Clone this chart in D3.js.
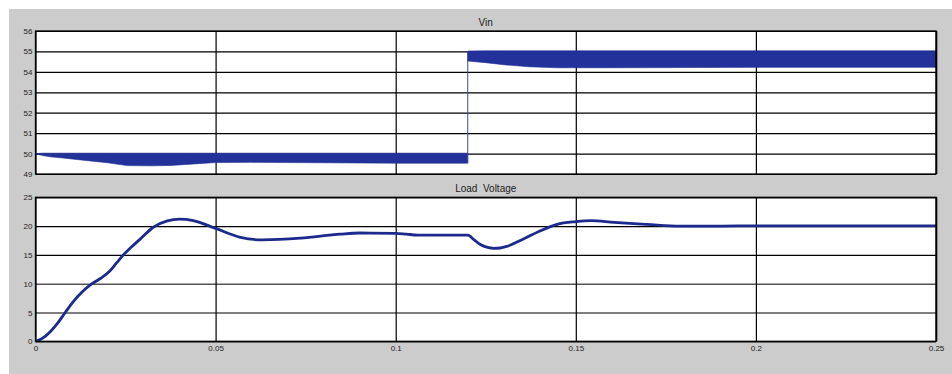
<!DOCTYPE html>
<html>
<head>
<meta charset="utf-8">
<script src="https://cdn.jsdelivr.net/npm/d3@7"></script>
<style>
  html, body { margin: 0; padding: 0; background: #ffffff; }
  svg { display: block; }
  text { font-family: "Liberation Sans", Arial, sans-serif; }
</style>
</head>
<body>
<svg id="chart" width="952" height="374"></svg>
<script>
// Time axis (s)
const xTickValues = [0, 0.05, 0.1, 0.15, 0.2, 0.25];
const xTickLabels = ["0", "0.05", "0.1", "0.15", "0.2", "0.25"];

// Vin panel
const vinTicks = [49, 50, 51, 52, 53, 54, 55, 56];
// switching-ripple envelope of the input voltage, before the step
const vinTimeA  = [0, 0.002, 0.0041, 0.0077, 0.012, 0.02, 0.0255, 0.032, 0.0375, 0.043, 0.05, 0.06, 0.08, 0.1, 0.12];
const vinUpperA = [50.0, 50.02, 50.02, 50.02, 50.02, 50.02, 50.02, 50.02, 50.02, 50.02, 50.02, 50.02, 50.02, 50.02, 50.02];
const vinLowerA = [50.0, 49.9, 49.84, 49.78, 49.7, 49.55, 49.41, 49.4, 49.42, 49.48, 49.56, 49.57, 49.55, 49.53, 49.53];
// after the step
const vinTimeB  = [0.12, 0.125, 0.13, 0.137, 0.145, 0.16, 0.2, 0.25];
const vinUpperB = [55.02, 55.03, 55.03, 55.03, 55.03, 55.03, 55.03, 55.03];
const vinLowerB = [54.53, 54.45, 54.35, 54.25, 54.2, 54.2, 54.22, 54.22];

// Load voltage panel
const loadTicks = [0, 5, 10, 15, 20, 25];
const loadTime = [0, 0.002, 0.0041, 0.0062, 0.00825, 0.0105, 0.013, 0.0157, 0.018, 0.0205, 0.0225, 0.0244, 0.0267, 0.029, 0.0327, 0.0366, 0.040, 0.0438, 0.05, 0.0569, 0.063, 0.0736, 0.0846, 0.09, 0.1, 0.103, 0.106, 0.12, 0.1218, 0.1235, 0.1255, 0.1272, 0.129, 0.131, 0.1356, 0.1402, 0.1448, 0.15, 0.1541, 0.1606, 0.1698, 0.179, 0.19, 0.2, 0.25];
const loadVolt = [0, 0.55, 1.67, 3.2, 5.0, 6.9, 8.6, 10.0, 10.9, 12.1, 13.6, 15.0, 16.4, 17.7, 19.8, 20.9, 21.2, 20.95, 19.6, 18.05, 17.6, 17.9, 18.6, 18.8, 18.75, 18.6, 18.45, 18.45, 17.6, 16.8, 16.3, 16.15, 16.2, 16.5, 17.8, 19.2, 20.3, 20.77, 20.95, 20.65, 20.3, 20.0, 20.0, 20.05, 20.05];

const svg = d3.select("#chart");
const W = 952, H = 374;
const lineColor = "#1b2a8c";

// figure background
svg.append("rect").attr("x", 9).attr("y", 9).attr("width", W - 9).attr("height", H - 9).attr("fill", "#cccccc");

const left = 35.5, right = 936;
const x = d3.scaleLinear().domain([0, 0.25]).range([left, right]);

function panel(top, bottom, yDomain, yTicks, title, specialGrid) {
  const y = d3.scaleLinear().domain(yDomain).range([bottom, top]);
  const g = svg.append("g");
  g.append("rect").attr("x", left).attr("y", top).attr("width", right - left).attr("height", bottom - top).attr("fill", "#ffffff");

  // horizontal grid
  const yAxis = d3.axisLeft(y).tickValues(yTicks).tickSize(-(right - left)).tickPadding(3).tickFormat(d3.format("d"));
  const ya = g.append("g").attr("transform", `translate(${left},0)`).call(yAxis);
  ya.select(".domain").remove();
  ya.selectAll(".tick line").attr("stroke", d => d === specialGrid ? "#555555" : "#000000").attr("stroke-width", d => d === specialGrid ? 1.6 : 1.2);
  ya.selectAll(".tick text").attr("fill", "#222").style("font-size", "8px");

  // vertical grid
  const xAxis = d3.axisBottom(x).tickValues(xTickValues).tickSize(-(bottom - top)).tickFormat((d, i) => xTickLabels[i]).tickPadding(4);
  const xa = g.append("g").attr("transform", `translate(0,${bottom})`).call(xAxis);
  xa.select(".domain").remove();
  xa.selectAll(".tick line").attr("stroke", "#000").attr("stroke-width", 1.2);
  xa.selectAll(".tick text").attr("fill", "#222").style("font-size", "8px");

  g.append("text").attr("x", (left + right) / 2).attr("y", top - 5).attr("text-anchor", "middle")
    .style("font-size", "10px").style("white-space", "pre").attr("fill", "#222").text(title);
  return { g, y, xa, top, bottom };
}

function frame(p) {
  p.g.append("rect").attr("x", left).attr("y", p.top).attr("width", right - left).attr("height", p.bottom - p.top)
    .attr("fill", "none").attr("stroke", "#000").attr("stroke-width", 1.3);
  p.g.append("line").attr("x1", right + 0.5).attr("x2", right + 0.5).attr("y1", p.top).attr("y2", p.bottom)
    .attr("stroke", "#000").attr("stroke-width", 1.5);
}

// ---- Vin ----
const p1 = panel(31, 174, [49, 56], vinTicks, "Vin", null);
p1.xa.selectAll(".tick text").remove();
const band = d3.area().x(d => x(d.t)).y0(d => p1.y(d.lo)).y1(d => p1.y(d.hi));
const bandA = vinTimeA.map((t, i) => ({ t, hi: vinUpperA[i], lo: vinLowerA[i] }));
const bandB = vinTimeB.map((t, i) => ({ t, hi: vinUpperB[i], lo: vinLowerB[i] }));
const clip1 = svg.append("clipPath").attr("id", "clip1");
clip1.append("rect").attr("x", left).attr("y", 31).attr("width", right - left).attr("height", 143);
const vg = p1.g.append("g").attr("clip-path", "url(#clip1)");
vg.append("path").datum(bandA).attr("d", band).attr("fill", "#22329a").attr("stroke", lineColor).attr("stroke-width", 0.6);
vg.append("path").datum(bandB).attr("d", band).attr("fill", "#22329a").attr("stroke", lineColor).attr("stroke-width", 0.6);
// step in the input voltage
const stepLine = d3.line().x(d => x(d[0])).y(d => p1.y(d[1]));
vg.append("path").datum([[vinTimeA[vinTimeA.length - 1], vinLowerA[vinLowerA.length - 1]], [vinTimeB[0], vinUpperB[0]]])
  .attr("d", stepLine).attr("fill", "none").attr("stroke", "#3a4a9e").attr("stroke-width", 1);
frame(p1);

// ---- Load Voltage ----
const p2 = panel(197.3, 341.3, [0, 25], loadTicks, "Load  Voltage", 10);
const clip2 = svg.append("clipPath").attr("id", "clip2");
clip2.append("rect").attr("x", left - 2).attr("y", 195).attr("width", right - left + 2).attr("height", 150);
const lv = d3.line().x((d, i) => x(loadTime[i])).y(d => p2.y(d)).curve(d3.curveMonotoneX);
p2.g.append("path").datum(loadVolt).attr("clip-path", "url(#clip2)").attr("d", lv)
  .attr("fill", "none").attr("stroke", lineColor).attr("stroke-width", 2.8).attr("stroke-linejoin", "round");
frame(p2);
</script>
</body>
</html>
